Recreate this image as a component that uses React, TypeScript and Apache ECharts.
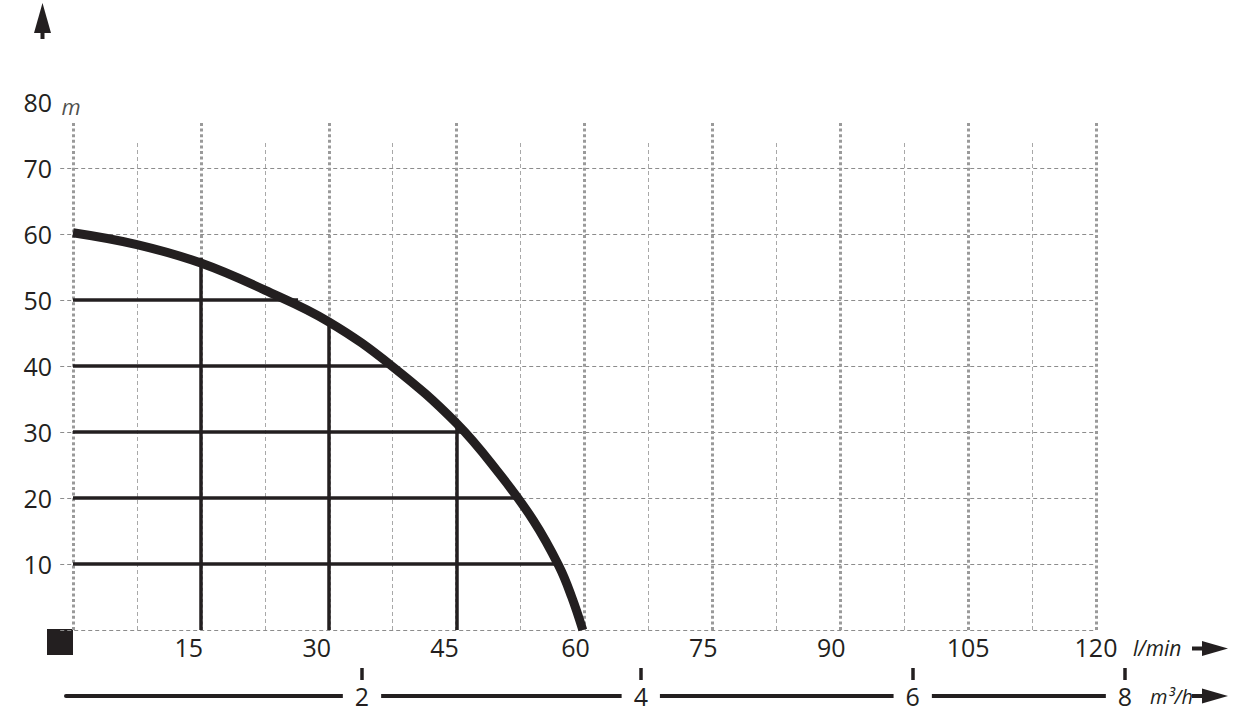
import React, { useEffect, useRef } from "react";
import * as echarts from "echarts";

// ---- data ----
const flowLpm = [0, 7.5, 15, 22.5, 30, 37.5, 45, 50, 54, 57, 58.5, 59.8];
const headM = [60.2, 58.4, 55.6, 51.5, 46.7, 39.9, 31.3, 23.7, 16.6, 9.7, 5, 0];

const hGridLevels = [0, 10, 20, 30, 40, 50, 60, 70];
const majorFlowLines = [0, 15, 30, 45, 60, 75, 90, 105, 120];
const minorFlowLines = [7.5, 22.5, 37.5, 52.5, 67.5, 82.5, 97.5, 112.5];

const refHeads = [10, 20, 30, 40, 50];
const refHeadFlowEnds = [56.7, 52, 46.2, 37.4, 26.4];
const refFlows = [15, 30, 45];
const refFlowHeadEnds = [56.4, 46.7, 32];

const m3hLabels = ["2", "4", "6", "8"];
const m3hTickFlow = [33.9, 66.6, 98.5, 123.4];

const INK = "#231f20";
const FONT = "Open Sans";

export default function App() {
  const ref = useRef<HTMLDivElement>(null);

  useEffect(() => {
    if (!ref.current) return;
    const chart = echarts.init(ref.current, null, { renderer: "svg" });

    const seg = (a: number[], b: number[]) => ({ coords: [a, b] });

    const option: any = {
      animation: false,
      backgroundColor: "#ffffff",
      textStyle: { fontFamily: FONT, color: INK },
      grid: [
        { left: 73, right: 140, top: 102, bottom: 93, outerBoundsMode: "none" },
        { left: 66, right: 111, top: 102, bottom: 93, outerBoundsMode: "none" },
      ],
      xAxis: [
        {
          gridIndex: 0,
          type: "value",
          min: 0,
          max: 120,
          interval: 15,
          axisLine: { show: false, onZero: false },
          axisTick: { show: false },
          splitLine: { show: false },
          axisLabel: {
            margin: 4,
            fontSize: 25,
            fontFamily: FONT,
            color: INK,
            formatter: (v: number) =>
              v === 0 ? "" : v <= 45 ? `{a|${v}}` : v <= 90 ? `{b|${v}}` : `{c|${v}}`,
            rich: {
              a: { fontSize: 25, fontFamily: FONT, color: INK, padding: [0, 24, 0, 0] },
              b: { fontSize: 25, fontFamily: FONT, color: INK, padding: [0, 18, 0, 0] },
              c: { fontSize: 25, fontFamily: FONT, color: INK },
            },
          },
          name: "l/min",
          nameLocation: "end",
          nameGap: 37,
          nameTextStyle: {
            fontStyle: "italic",
            fontSize: 21,
            fontFamily: FONT,
            color: INK,
            verticalAlign: "top",
            lineHeight: 36,
          },
        },
        {
          gridIndex: 1,
          type: "value",
          min: -0.82,
          max: 123.4,
          position: "bottom",
          offset: 50,
          axisLine: { show: false, onZero: false },
          axisTick: {
            show: true,
            inside: true,
            length: 12,
            customValues: m3hTickFlow,
            lineStyle: { color: INK, width: 3.5 },
          },
          axisLabel: { show: false, customValues: m3hTickFlow },
          splitLine: { show: false },
        },
        {
          gridIndex: 1,
          type: "value",
          min: -0.82,
          max: 123.4,
          position: "bottom",
          offset: 66,
          axisLine: { show: true, onZero: false, lineStyle: { color: INK, width: 4 } },
          axisTick: { show: false },
          splitLine: { show: false },
          axisLabel: {
            customValues: m3hTickFlow,
            margin: 0,
            verticalAlign: "middle",
            fontSize: 25,
            fontFamily: FONT,
            color: INK,
            backgroundColor: "#ffffff",
            padding: [2, 12],
            formatter: (v: number) => {
              let best = 0;
              m3hTickFlow.forEach((t, i) => {
                if (Math.abs(t - v) < Math.abs(m3hTickFlow[best] - v)) best = i;
              });
              return m3hLabels[best];
            },
          },
          name: "m³/h",
          nameLocation: "end",
          nameGap: 3,
          nameTextStyle: {
            fontStyle: "italic",
            fontSize: 20,
            fontFamily: FONT,
            color: INK,
            verticalAlign: "middle",
          },
        },
      ],
      yAxis: [
        {
          gridIndex: 0,
          type: "value",
          min: 0,
          max: 80,
          interval: 10,
          axisLine: { show: false, onZero: false },
          axisTick: { show: false },
          splitLine: { show: false },
          axisLabel: {
            margin: 21,
            fontSize: 25,
            fontFamily: FONT,
            color: INK,
            formatter: (v: number) => (v === 0 ? "" : String(v)),
          },
        },
        { gridIndex: 1, type: "value", min: 0, max: 80, show: false },
      ],
      series: [
        {
          type: "lines",
          coordinateSystem: "cartesian2d",
          clip: false,
          silent: true,
          lineStyle: { color: "#8c8c8c", width: 1.2, type: [4, 3], opacity: 1 },
          data: hGridLevels.map((y) => seg([-1.5, y], [120, y])),
          z: 1,
        },
        {
          type: "lines",
          coordinateSystem: "cartesian2d",
          clip: false,
          silent: true,
          lineStyle: { color: "#a8a8a8", width: 1, type: [4, 3], opacity: 1 },
          data: minorFlowLines.map((x) => seg([x, 0], [x, 73.8])),
          z: 1,
        },
        {
          type: "lines",
          coordinateSystem: "cartesian2d",
          clip: false,
          silent: true,
          lineStyle: { color: "#9a9a9a", width: 3, type: [3, 2.6], opacity: 1 },
          data: majorFlowLines.map((x) => seg([x, 0], [x, 76.8])),
          z: 2,
        },
        {
          type: "lines",
          coordinateSystem: "cartesian2d",
          clip: false,
          silent: true,
          lineStyle: { color: INK, width: 3.5, type: "solid", opacity: 1 },
          data: [
            ...refHeads.map((y, i) => seg([0, y], [refHeadFlowEnds[i], y])),
            ...refFlows.map((x, i) => seg([x, 0], [x, refFlowHeadEnds[i]])),
          ],
          z: 3,
        },
        {
          type: "line",
          data: flowLpm.map((x, i) => [x, headM[i]]),
          smooth: 0.4,
          symbol: "none",
          clip: false,
          silent: true,
          lineStyle: { color: INK, width: 9, cap: "butt", join: "round" },
          z: 5,
        },
        {
          type: "scatter",
          data: [[0, 80]],
          symbolSize: 1,
          clip: false,
          silent: true,
          itemStyle: { color: "transparent" },
          label: {
            show: true,
            formatter: "m",
            position: "right",
            distance: 0,
            offset: [-12, 4],
            fontStyle: "italic",
            fontSize: 22,
            fontFamily: FONT,
            color: INK,
          },
        },
      ],
      graphic: [
        // corner square
        { type: "rect", shape: { x: 47, y: 629, width: 26, height: 26 }, style: { fill: INK }, silent: true },
        // up arrow (head axis)
        { type: "polygon", shape: { points: [[42.5, 3], [34, 33], [51, 33]] }, style: { fill: INK }, silent: true },
        { type: "rect", shape: { x: 40.5, y: 30, width: 4, height: 9 }, style: { fill: INK }, silent: true },
        // right arrow l/min
        { type: "rect", shape: { x: 1192, y: 646.5, width: 12, height: 4 }, style: { fill: INK }, silent: true },
        { type: "polygon", shape: { points: [[1228, 648.5], [1202, 641], [1202, 656]] }, style: { fill: INK }, silent: true },
        // right arrow m3/h
        { type: "rect", shape: { x: 1192, y: 694, width: 12, height: 4 }, style: { fill: INK }, silent: true },
        { type: "polygon", shape: { points: [[1228, 696], [1202, 688.5], [1202, 703.5]] }, style: { fill: INK }, silent: true },
      ],
    };

    chart.setOption(option);
    return () => chart.dispose();
  }, []);

  return (
    <div
      ref={ref}
      style={{ position: "fixed", left: 0, top: 0, width: 1236, height: 723, background: "#fff" }}
    />
  );
}
